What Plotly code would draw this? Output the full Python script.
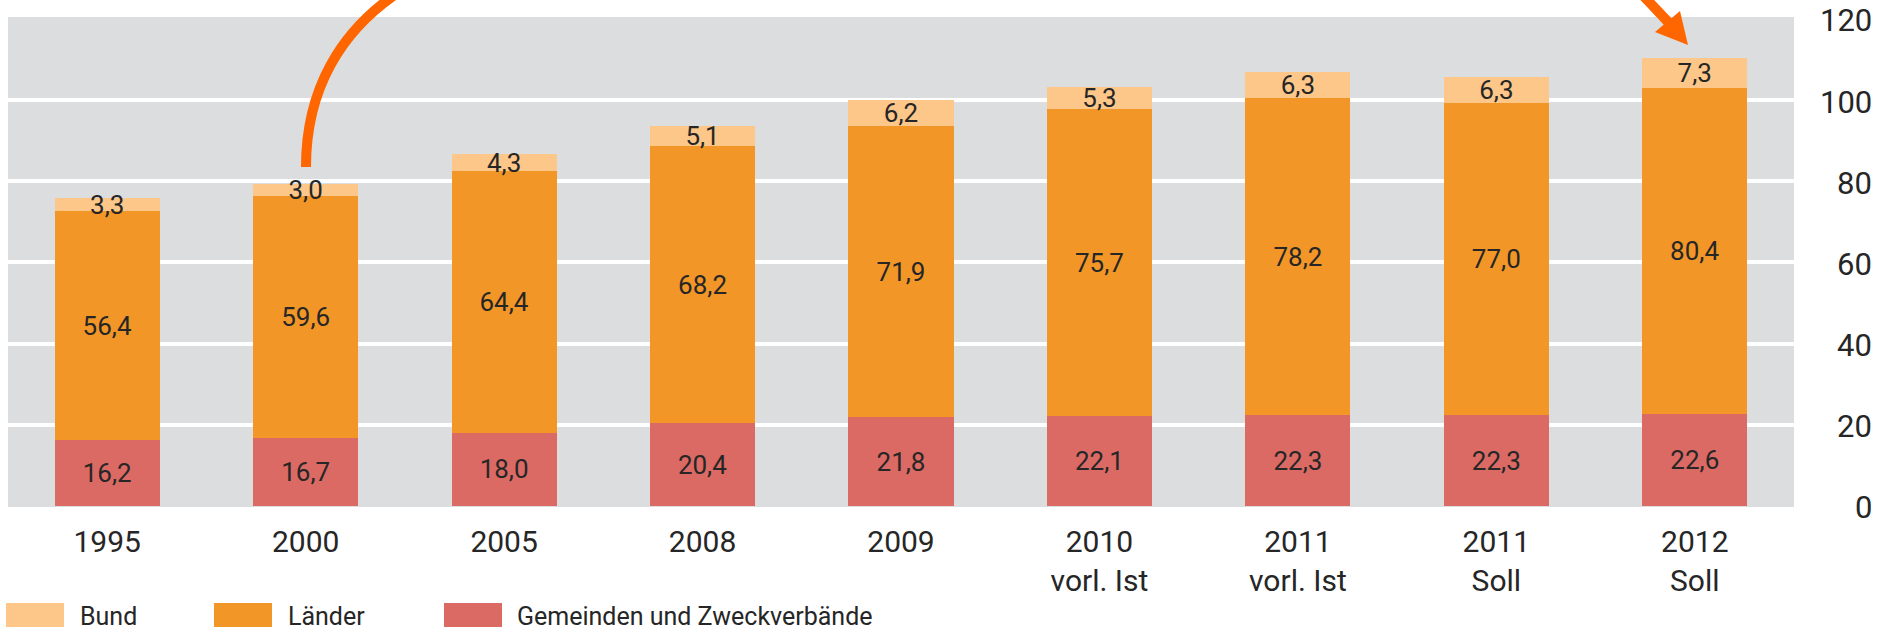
import plotly.graph_objects as go

categories = ["1995", "2000", "2005", "2008", "2009",
              "2010<br>vorl. Ist", "2011<br>vorl. Ist", "2011<br>Soll", "2012<br>Soll"]
gemeinden = [16.2, 16.7, 18.0, 20.4, 21.8, 22.1, 22.3, 22.3, 22.6]
laender = [56.4, 59.6, 64.4, 68.2, 71.9, 75.7, 78.2, 77.0, 80.4]
bund = [3.3, 3.0, 4.3, 5.1, 6.2, 5.3, 6.3, 6.3, 7.3]
series_names = ["Bund", "Länder", "Gemeinden und Zweckverbände"]
y_ticks = [0, 20, 40, 60, 80, 100, 120]

colors = {"Bund": "#fcc789", "Länder": "#f39628", "Gemeinden und Zweckverbände": "#dc6a64"}
FONT = "Roboto, 'Open Sans', sans-serif"
TXT = "#262626"

W, H = 1877, 630
ML, MR, MT, MB = 8, 83, 17, 123
PW, PH = W - ML - MR, H - MT - MB


def px(x):
    return (x - ML) / PW


def py(y):
    return (MT + PH - y) / PH


def fmt(v):
    return f"{v:.1f}".replace(".", ",")


fig = go.Figure()
for name, vals in [("Gemeinden und Zweckverbände", gemeinden), ("Länder", laender), ("Bund", bund)]:
    fig.add_trace(go.Bar(
        x=categories, y=vals, name=name,
        marker=dict(color=colors[name], line=dict(width=0)),
        text=[fmt(v) for v in vals], textposition="inside", insidetextanchor="middle",
        constraintext="none", textangle=0,
        insidetextfont=dict(family=FONT, size=26, color=TXT),
        showlegend=False, hoverinfo="x+y+name",
    ))

shapes = []
# decorative orange curve rising from the 2000 bar
p = [(306, 167), (306, 90), (340, 30), (402, -10)]
path = f"M {px(p[0][0])},{py(p[0][1])} C {px(p[1][0])},{py(p[1][1])} {px(p[2][0])},{py(p[2][1])} {px(p[3][0])},{py(p[3][1])}"
shapes.append(dict(type="path", xref="paper", yref="paper", path=path,
                   line=dict(color="#ff6600", width=10), layer="above"))
# arrow pointing at 2012 bar
shapes.append(dict(type="line", xref="paper", yref="paper",
                   x0=px(1636), y0=py(-12), x1=px(1670), y1=py(24),
                   line=dict(color="#ff6600", width=10), layer="above"))
tri = f"M {px(1655)},{py(32)} L {px(1688)},{py(45)} L {px(1680)},{py(11)} Z"
shapes.append(dict(type="path", xref="paper", yref="paper", path=tri,
                   fillcolor="#ff6600", line=dict(width=0), layer="above"))

annotations = []
# y tick labels (right aligned)
for t in y_ticks:
    annotations.append(dict(xref="paper", yref="y", x=px(1874), y=t, text=str(t),
                            xanchor="right", yanchor="middle", yshift=-2, showarrow=False,
                            font=dict(family=FONT, size=31, color=TXT)))

# legend
legend_x = [(6, 78), (214, 286), (444, 515)]
for (sx, tx), name in zip(legend_x, series_names):
    shapes.append(dict(type="rect", xref="paper", yref="paper",
                       x0=px(sx), x1=px(sx + 58), y0=py(603), y1=py(627),
                       fillcolor=colors[name], line=dict(width=0)))
    annotations.append(dict(xref="paper", yref="paper", x=px(tx), y=py(616), text=name,
                            xanchor="left", yanchor="middle", showarrow=False,
                            font=dict(family=FONT, size=25, color=TXT)))

fig.update_layout(
    width=W, height=H,
    margin=dict(l=ML, r=MR, t=MT, b=MB),
    barmode="stack", bargap=0.47,
    plot_bgcolor="#dcdddf", paper_bgcolor="white",
    font=dict(family=FONT, color=TXT),
    shapes=shapes, annotations=annotations,
    xaxis=dict(type="category", range=[-0.5, 8.5], showgrid=False, zeroline=False,
               showline=False, ticks="outside", ticklen=8, tickcolor="rgba(0,0,0,0)",
               tickfont=dict(family=FONT, size=30, color=TXT)),
    yaxis=dict(range=[-0.25, 120.45], tickvals=[20, 40, 60, 80, 100],
               showticklabels=False, gridcolor="white", gridwidth=4,
               zeroline=False, showline=False, fixedrange=True),
)

fig.write_html("out.html", config={"displayModeBar": False},
               post_script="document.body.style.margin='0';document.body.style.overflow='hidden';")
